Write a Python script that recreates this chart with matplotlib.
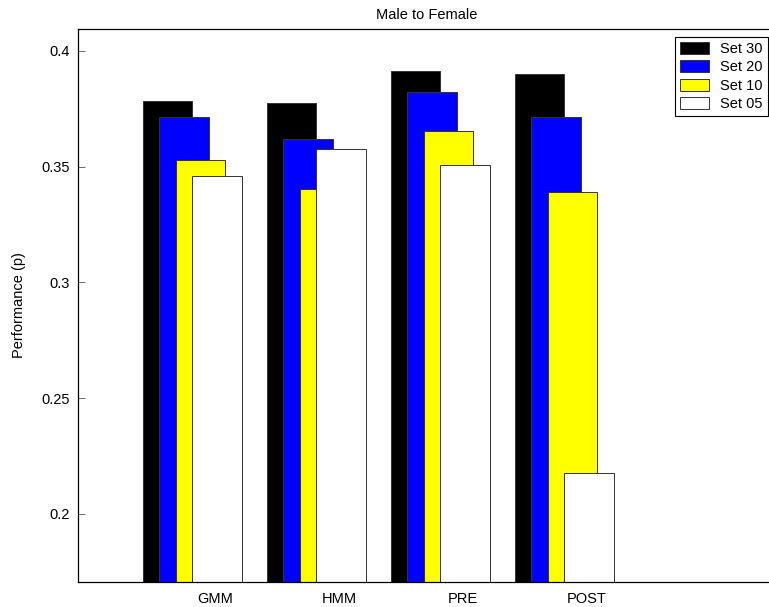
import numpy as np
import matplotlib
matplotlib.use('Agg')
import matplotlib.pyplot as plt

plt.rcParams['font.family'] = ['Liberation Sans', 'DejaVu Sans']

methods = ['GMM', 'HMM', 'PRE', 'POST']
set_names = ['Set 30', 'Set 20', 'Set 10', 'Set 05']
set30 = [0.3785, 0.3777, 0.3915, 0.3901]
set20 = [0.3715, 0.3619, 0.3822, 0.3713]
set10 = [0.3529, 0.3405, 0.3654, 0.3390]
set05 = [0.3460, 0.3575, 0.3506, 0.2178]
colors = ['black', 'blue', 'yellow', 'white']

W, H = 769, 607
fig = plt.figure(figsize=(W / 100, H / 100), dpi=100)
# axes runs a bit past the right edge of the picture, like the cropped original
ax = fig.add_axes([78 / W, 1 - 582 / H, (776 - 78) / W, (582 - 29) / H])

x = np.arange(1, len(methods) + 1)
offsets = [-0.383, -0.25, -0.117, 0.016]
width = 0.4
for vals, off, c, name in zip([set30, set20, set10, set05], offsets, colors, set_names):
    ax.bar(x + off, vals, width=width, color=c, edgecolor='#333333',
           linewidth=0.7, label=name)

ax.set_xlim(-0.105, 5.524)
ax.set_ylim(0.1705, 0.4095)
ax.set_xticks(x)
ax.set_xticklabels(methods)
ax.set_yticks([0.2, 0.25, 0.3, 0.35, 0.4])
ax.set_yticklabels(['0.2', '0.25', '0.3', '0.35', '0.4'])
ax.tick_params(axis='x', length=0, labelsize=10.5, pad=7)
ax.tick_params(axis='y', direction='in', length=5, width=0.6, color='#555555',
               labelsize=10.5, right=True, pad=6)
for s in ax.spines.values():
    s.set_linewidth(0.9)

ax.set_ylabel('Performance (p)', fontsize=10.5, labelpad=11)
ax.set_title('Male to Female', fontsize=10.5, pad=7)

leg = ax.legend(loc='upper right', bbox_to_anchor=(768 / W, 1 - 36.7 / H),
                bbox_transform=fig.transFigure, borderaxespad=0,
                fontsize=10.5, fancybox=False, framealpha=1, edgecolor='black',
                handlelength=2.0, handleheight=0.9, handletextpad=0.75,
                labelspacing=0.3, borderpad=0.35)
leg.get_frame().set_linewidth(0.8)

fig.savefig('out.png', dpi=100)
